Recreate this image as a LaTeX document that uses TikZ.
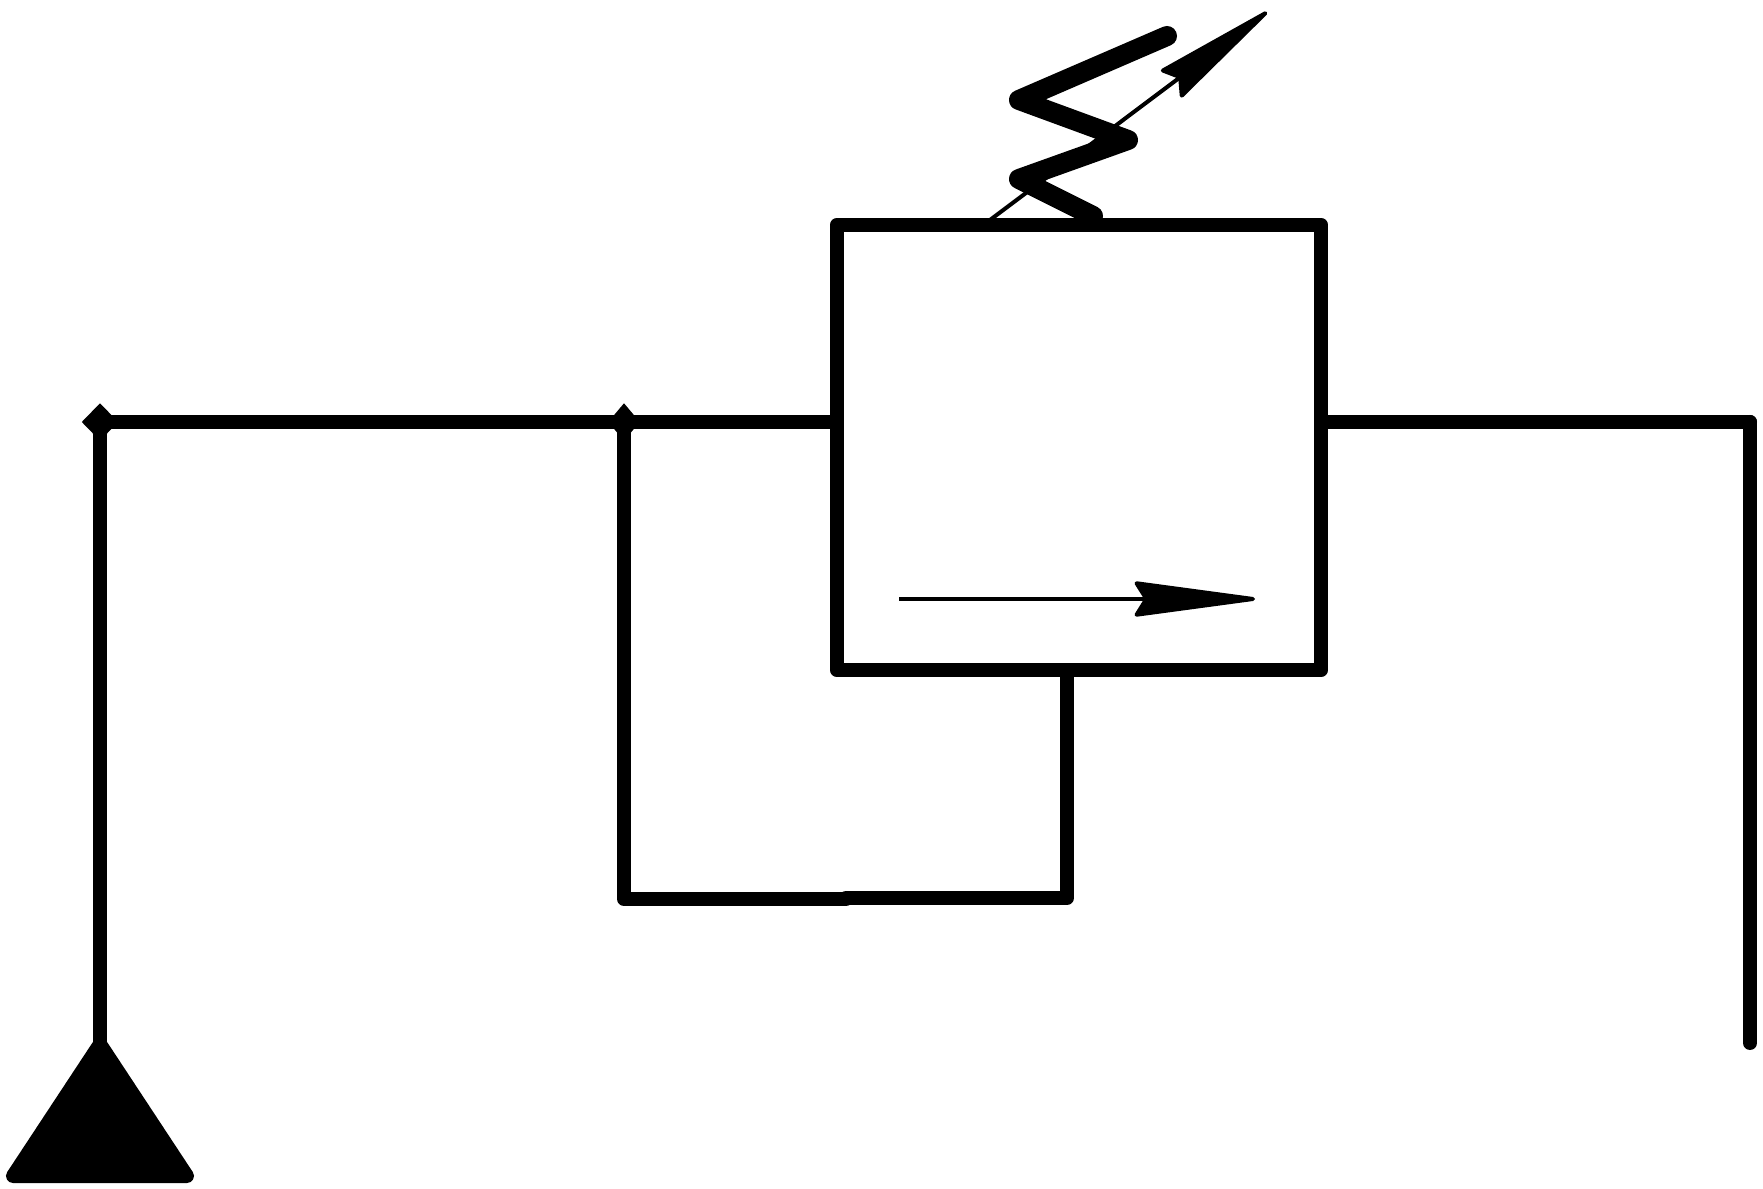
\documentclass[tikz,border=0pt]{standalone}
\usepackage{tikz}
\usetikzlibrary{shapes.geometric,arrows.meta}

\begin{document}
\begin{tikzpicture}[x=0.01cm,y=-0.01cm,
                    pipe/.style={draw,line width=0.14cm,line cap=round,line join=round},
                    spring/.style={draw,line width=0.2cm,line cap=round,line join=round},
                    thin line/.style={draw,line width=0.04cm,-{Stealth[length=1.35cm,width=0.36cm,inset=0.11cm,round]}},
                    junction/.style={diamond,fill=black,inner sep=0pt,minimum width=0.37cm,minimum height=0.38cm},
                    valve/.style={rectangle,draw,line width=0.14cm,line join=round,inner sep=0pt,outer sep=0pt,
                                  minimum width=4.84cm,minimum height=4.45cm}]

  \useasboundingbox (0,0) rectangle (1763,1189);

  \node[junction] (j1) at (100,422) {};
  \node[junction,minimum width=0.32cm] (j2) at (624,422) {};
  \node[valve] (box) at (1079,447.5) {};

  \coordinate (apex) at (100,1044);
  \coordinate (baseL) at (13,1176);
  \coordinate (baseR) at (187,1176);
  \coordinate (corner) at (1750,422);
  \coordinate (end) at (1750,1043);
  \coordinate (lowL) at (624,899);
  \coordinate (lowM1) at (846,899);
  \coordinate (lowM2) at (846,898);
  \coordinate (lowR) at (1067,898);

  % lines
  \path[pipe]
    (j1.center) edge (j2.center)
    edge (apex)
    (j2.center) edge (box.west |- j2)
    (box.east |- j2) edge (corner);
  \draw[pipe] (corner) -- (end);
  \draw[pipe] (j2.center) -- (lowL) -- (lowM1);
  \draw[pipe] (box.south -| lowR) -- (lowR) -- (lowM2);

  % source
  \draw[pipe,fill=black] (apex) -- (baseL) -- (baseR) -- cycle;

  % spring
  \coordinate (s1) at (1167,36);
  \coordinate (s2) at (1019,100);
  \coordinate (s3) at (1128,140);
  \coordinate (s4) at (1019,179);
  \coordinate (s5) at (1093,216);
  \draw[spring] (s5) -- (s4) -- (s3) -- (s2) -- (s1);

  % arrows
  \coordinate (adj0) at (990,220);
  \coordinate (adj1) at (1267,12);
  \coordinate (flow0) at (899,599);
  \coordinate (flow1) at (1255,599);
  \draw[thin line] (adj0) -- (adj1);
  \draw[thin line] (flow0) -- (flow1);
\end{tikzpicture}
\end{document}
